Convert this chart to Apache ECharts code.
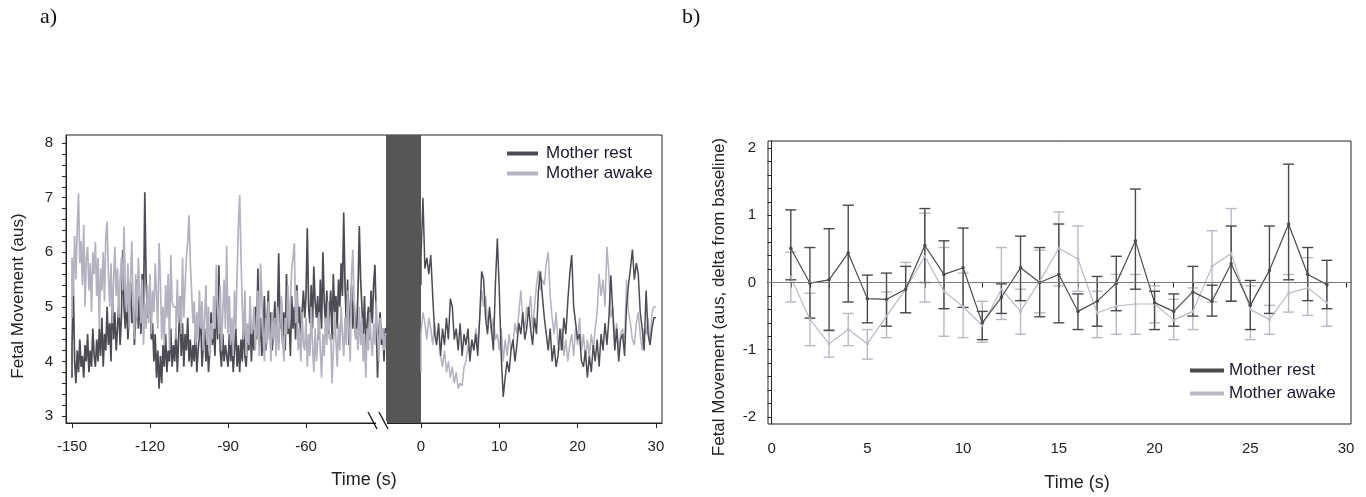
<!DOCTYPE html>
<html>
<head>
<meta charset="utf-8">
<script src="https://cdn.jsdelivr.net/npm/echarts@6/dist/echarts.min.js"></script>
<style>
  html, body { margin: 0; padding: 0; background: #fff; }
  #chart { width: 1366px; height: 497px; }
</style>
</head>
<body>
<div id="chart"></div>
<script>
// panel a) - before the break, 0.5 s samples from -150 s
const beforeStart = -150;
const beforeStep = 0.5;
const awakeBefore = [
  4.8, 5.9, 5.2, 6.3, 5.5, 6.4, 7.08, 5.8, 6.2, 5.4, 6.5, 5.0, 5.9, 6.1, 5.3, 5.8, 4.9, 6.0, 5.6, 6.19,
  5.2, 5.9, 4.6, 5.7, 5.3, 6.0, 5.1, 6.3, 6.56, 5.6, 5.0, 5.8, 4.7, 5.5, 6.1, 5.2, 5.7, 4.8, 5.5, 5.9,
  5.3, 6.47, 5.4, 4.9, 5.8, 4.6, 5.5, 6.2, 5.0, 4.4, 5.6, 4.8, 5.9, 5.3, 4.7, 5.5, 4.3, 5.1, 4.6, 5.4,
  4.7, 5.6, 4.5, 5.3, 4.9, 5.8, 5.2, 4.6, 6.17, 5.5, 4.4, 5.0, 4.3, 5.4, 4.8, 5.6, 4.2, 5.95, 5.1, 5.0,
  5.0, 4.4, 5.5, 4.7, 5.2, 4.5, 5.9, 4.8, 5.4, 5.9, 6.2, 6.68, 5.8, 5.3, 4.7, 5.1, 4.3, 4.9, 4.4, 5.3,
  4.6, 5.1, 4.2, 4.8, 5.4, 4.3, 5.0, 4.1, 4.7, 4.4, 5.2, 4.6, 5.77, 5.0, 4.5, 5.4, 4.2, 4.9, 5.5, 4.6,
  6.12, 4.5, 5.2, 4.3, 4.8, 4.1, 5.3, 4.6, 5.6, 6.5, 7.05, 5.9, 5.0, 4.4, 5.3, 4.1, 4.7, 4.3, 5.2, 4.5,
  4.6, 5.0, 4.2, 4.7, 5.3, 4.1, 5.8, 5.2, 4.5, 4.0, 4.8, 4.3, 5.1, 4.6, 4.0, 4.9, 4.4, 4.8, 4.1, 5.0,
  4.2, 4.7, 5.2, 4.4, 4.0, 4.8, 4.5, 5.4, 4.6, 5.1, 5.7, 5.9, 6.17, 4.7, 5.3, 4.2, 4.6, 4.0, 4.9, 4.3,
  4.2, 4.8, 3.9, 4.5, 4.1, 5.0, 4.3, 3.8, 4.6, 4.0, 4.4, 4.9, 4.2, 3.7, 4.5, 4.1, 4.8, 4.3, 5.1, 4.4,
  4.5, 3.6, 4.2, 4.9, 4.4, 3.9, 4.7, 4.2, 5.0, 4.5, 4.1, 4.8, 4.3, 5.3, 4.6, 4.0, 5.6, 6.05, 5.1, 4.4,
  4.6, 4.2, 5.0, 4.3, 4.8, 4.0, 4.5, 3.7, 4.6, 4.2, 4.9, 4.4, 4.1, 4.7, 4.3, 5.1, 4.5, 4.0, 4.8, 4.4, 4.6, 4.2, 4.5
];
const restBefore = [
  3.7, 4.3, 5.4, 4.0, 3.6, 4.2, 3.8, 4.4, 3.9, 4.1, 3.7, 4.3, 4.0, 4.5, 3.8, 4.2, 3.9, 4.6, 4.1, 3.9,
  4.4, 4.0, 4.6, 4.1, 4.8, 3.9, 4.5, 4.2, 5.0, 4.3, 4.7, 4.0, 5.3, 4.4, 4.9, 4.2, 4.6, 5.1, 4.3, 4.8,
  6.04, 5.0, 4.6, 5.2, 4.4, 4.9, 5.45, 4.7, 5.0, 4.3, 4.8, 5.5, 4.6, 5.2, 4.5, 5.6, 4.9, 7.1, 5.5, 4.8,
  4.9, 5.3, 4.4, 4.7, 4.0, 4.5, 3.7, 4.2, 3.5, 4.1, 3.6, 4.3, 3.9, 4.5, 3.8, 4.2, 4.0, 4.6, 3.9, 4.3,
  4.0, 4.6, 3.8, 4.4, 5.2, 4.1, 4.7, 3.9, 4.5, 4.2, 4.8, 4.0, 4.4, 3.9, 4.3, 4.0, 4.6, 3.8, 4.2, 4.5,
  4.8, 3.9, 4.3, 4.6, 4.0, 4.4, 3.8, 4.2, 4.9, 4.3, 4.6, 4.1, 5.3, 4.4, 5.76, 4.2, 3.9, 4.5, 4.0, 4.3,
  4.1, 3.9, 4.5, 4.0, 4.4, 3.8, 4.2, 4.6, 3.9, 4.3, 3.8, 4.4, 4.0, 4.7, 4.1, 3.9, 4.5, 4.2, 4.8, 4.0,
  4.6, 4.2, 5.0, 4.4, 5.7, 4.3, 4.8, 4.1, 4.5, 5.2, 4.2, 4.7, 5.3, 4.4, 4.9, 4.2, 4.6, 5.1, 4.3, 4.8,
  5.98, 4.6, 5.1, 4.3, 4.9, 4.2, 5.6, 4.5, 4.8, 4.1, 5.2, 4.6, 5.0, 4.4, 5.4, 4.7, 5.0, 4.3, 4.9, 5.3,
  4.8, 5.2, 6.44, 5.0, 4.7, 5.4, 4.6, 5.74, 5.1, 4.8, 5.2, 4.4, 5.5, 4.6, 6.0, 5.1, 4.7, 5.3, 4.5, 4.9,
  5.3, 4.4, 5.6, 4.9, 5.2, 4.6, 5.5, 5.0, 5.8, 5.2, 6.73, 5.4, 4.7, 5.5, 4.3, 5.0, 5.4, 4.6, 5.1, 4.5,
  4.6, 5.3, 6.48, 5.5, 5.0, 4.5, 5.2, 4.1, 4.7, 5.0, 4.4, 5.3, 4.7, 5.4, 5.77, 4.8, 3.7, 4.5, 4.9, 4.3, 4.6, 4.0, 4.6
];
// panel a) - after the break, 0.25 s samples from 0 s
const afterStart = 0;
const afterStep = 0.25;
const restAfter = [
  5.4, 5.9, 7.0, 5.7, 5.9, 5.6, 5.95, 5.2,
  4.5, 4.3, 4.7, 4.1, 4.6, 4.3, 4.8, 4.4,
  5.15, 5.0, 4.4, 4.6, 4.2, 4.7, 4.1, 4.5,
  4.3, 4.6, 4.0, 4.4, 4.2, 4.5, 4.1, 4.8,
  5.65, 5.5, 4.8, 4.5, 5.0, 4.6, 4.2, 5.4,
  6.25, 5.3, 4.1, 3.35, 3.7, 4.0, 3.8, 4.2,
  4.4, 4.0, 4.3, 4.7, 4.5, 4.9, 4.4, 4.6,
  5.0, 4.6, 4.3, 4.8, 4.5, 5.3, 5.65, 5.2,
  4.8, 4.5, 4.2, 4.6, 4.0, 4.3, 3.9, 4.1,
  4.6, 4.2, 4.8, 4.5, 5.1, 5.6, 5.95, 5.0,
  4.7, 4.4, 4.5, 4.0, 3.9, 4.2, 3.7, 4.1,
  3.8, 4.3, 4.0, 4.4, 3.9, 4.5, 4.2, 4.7,
  4.3, 4.8, 5.58, 4.9, 4.2, 4.6, 4.0, 4.4,
  4.5, 4.1, 5.0, 5.4, 5.7, 6.05, 5.5, 5.8,
  5.6, 4.9, 4.6, 4.2, 5.3, 4.5, 4.3, 4.6,
  4.8
];
const awakeAfter = [
  3.8, 4.5, 4.9, 4.7, 4.4, 4.8, 4.6, 4.3,
  4.7, 4.4, 4.6, 4.1, 3.9, 4.2, 3.8, 4.0,
  3.7, 3.9, 3.6, 3.8, 3.5, 3.6, 3.55, 3.9,
  4.0, 4.3, 4.1, 4.4, 4.2, 4.6, 4.3, 4.8,
  5.3, 5.0, 5.2, 4.7, 4.9, 4.5, 4.8, 4.4,
  4.5, 4.2, 4.6, 4.0, 4.4, 4.1, 4.5, 4.2,
  4.3, 4.7, 4.5, 4.9, 5.3, 4.8, 4.6, 5.0,
  4.9, 5.2, 4.6, 5.0, 5.4, 5.67, 5.3, 5.5,
  5.4, 5.8, 6.0, 5.2, 4.8, 4.5, 4.9, 4.3,
  4.2, 4.6, 4.1, 4.4, 4.0, 4.3, 4.5, 4.1,
  4.6, 4.3, 4.8, 4.2, 4.5, 4.0, 4.4, 4.1,
  4.5, 4.2, 4.6, 4.9, 5.6, 5.2, 5.5, 5.0,
  6.1, 5.6, 4.8, 5.0, 4.4, 4.7, 4.2, 4.5,
  4.6, 4.3, 5.5, 4.9, 4.7, 4.4, 4.3, 4.7,
  4.9, 4.5, 4.2, 4.6, 4.5, 4.8, 4.3, 4.9,
  5.0
];
const ticksA1 = [-150, -120, -90, -60];
const ticksA2 = [0, 10, 20, 30];
const yTicksA = [3, 4, 5, 6, 7, 8];

// panel b) - mean with error bars per second
const secs = [1, 2, 3, 4, 5, 6, 7, 8, 9, 10, 11, 12, 13, 14, 15, 16, 17, 18, 19, 20, 21, 22, 23, 24, 25, 26, 27, 28, 29];
const restMean = [0.51, -0.01, 0.04, 0.44, -0.24, -0.25, -0.10, 0.55, 0.12, 0.22, -0.60, -0.22, 0.22, 0.00, 0.12, -0.43, -0.28, -0.01, 0.62, -0.30, -0.43, -0.14, -0.28, 0.28, -0.34, 0.18, 0.87, 0.12, -0.03];
const restLow = [0.04, -0.53, -0.71, -0.29, -0.60, -0.65, -0.45, 0.00, -0.39, -0.37, -0.85, -0.46, -0.27, -0.51, -0.60, -0.70, -0.65, -0.42, -0.10, -0.70, -0.65, -0.50, -0.50, -0.28, -0.70, -0.46, 0.04, -0.27, -0.39];
const restHigh = [1.08, 0.52, 0.80, 1.15, 0.11, 0.14, 0.24, 1.10, 0.62, 0.81, -0.43, -0.02, 0.69, 0.52, 0.87, -0.17, 0.09, 0.39, 1.39, -0.13, -0.17, 0.24, -0.04, 0.84, 0.03, 0.84, 1.76, 0.52, 0.33];
const awakeMean = [0.08, -0.55, -0.91, -0.70, -0.91, -0.50, -0.10, 0.39, -0.13, -0.36, -0.64, -0.10, -0.43, 0.02, 0.51, 0.35, -0.45, -0.35, -0.32, -0.32, -0.56, -0.43, 0.24, 0.43, -0.40, -0.55, -0.16, -0.08, -0.30];
const awakeLow = [-0.29, -0.94, -1.11, -0.94, -1.14, -0.82, -0.45, -0.29, -0.80, -0.82, -0.89, -0.55, -0.77, -0.45, -0.05, -0.13, -0.82, -0.77, -0.77, -0.60, -0.85, -0.70, -0.29, -0.27, -0.85, -0.77, -0.44, -0.49, -0.65];
const awakeHigh = [0.45, -0.16, -0.72, -0.46, -0.70, -0.14, 0.30, 1.03, 0.52, 0.14, -0.28, 0.52, -0.10, 0.48, 1.05, 0.84, -0.13, 0.12, 0.12, -0.05, -0.25, -0.08, 0.77, 1.10, -0.05, -0.34, 0.12, 0.37, 0.00];
const ticksB = [0, 5, 10, 15, 20, 25, 30];
const yTicksB = [-2, -1, 0, 1, 2];

const DARK = '#4c4c54';
const LIGHT = '#b2b2c0';
const DARK_B = '#4a4a4a';
const LIGHT_B = '#b9b9c4';
const FONT = 'Liberation Sans, Arial, sans-serif';
const GAP_FROM = -4.34; // left edge of the shaded gap = axis min of the after-break grid

const pairs = (start, step, vals) => vals.map((v, i) => [start + i * step, v]);
// small tick marks
const fineTicks = (from, to, step) => {
  const out = [];
  for (let v = from; v <= to + 1e-9; v += step) out.push(Math.round(v * 100) / 100);
  return out;
};

function errorBars(color) {
  return function (params, api) {
    const x = api.value(0);
    const lo = api.coord([x, api.value(1)]);
    const hi = api.coord([x, api.value(2)]);
    const w = 5.5;
    const style = { stroke: color, lineWidth: 1.4 };
    return {
      type: 'group',
      children: [
        { type: 'line', shape: { x1: lo[0], y1: lo[1], x2: hi[0], y2: hi[1] }, style },
        { type: 'line', shape: { x1: lo[0] - w, y1: lo[1], x2: lo[0] + w, y2: lo[1] }, style },
        { type: 'line', shape: { x1: hi[0] - w, y1: hi[1], x2: hi[0] + w, y2: hi[1] }, style }
      ]
    };
  };
}

const chart = echarts.init(document.getElementById('chart'));

const axisText = { color: '#222', fontFamily: FONT, fontSize: 15 };
const lineAxis = { show: true, lineStyle: { color: '#222', width: 1 } };

const option = {
  animation: false,
  backgroundColor: '#fff',
  grid: [
    { left: 66, top: 135, width: 321, height: 288, show: true, borderColor: '#222', borderWidth: 1 },
    { left: 387, top: 135, width: 275, height: 288, show: true, borderColor: '#222', borderWidth: 1 },
    { left: 768, top: 141, width: 583, height: 283, show: true, borderColor: '#222', borderWidth: 1 }
  ],
  xAxis: [
    {
      gridIndex: 0, type: 'value', min: -152.31, max: -28.85,
      axisLine: lineAxis, splitLine: { show: false },
      axisTick: { customValues: ticksA1, length: 5, lineStyle: { color: '#222' } },
      axisLabel: { customValues: ticksA1, margin: 16, ...axisText }
    },
    {
      gridIndex: 1, type: 'value', min: GAP_FROM, max: 30.78,
      axisLine: lineAxis, splitLine: { show: false },
      axisTick: { customValues: ticksA2, length: 5, lineStyle: { color: '#222' } },
      axisLabel: { customValues: ticksA2, margin: 16, ...axisText }
    },
    {
      gridIndex: 2, type: 'value', min: -0.19, max: 30.26,
      axisLine: lineAxis, splitLine: { show: false },
      axisTick: { customValues: fineTicks(0, 30, 1), length: 5, lineStyle: { color: '#222' } },
      axisLabel: { customValues: ticksB, margin: 17, ...axisText }
    }
  ],
  yAxis: [
    {
      gridIndex: 0, type: 'value', min: 2.87, max: 8.15,
      axisLine: lineAxis, splitLine: { show: false },
      axisTick: { customValues: fineTicks(3, 8, 0.2), length: 4, lineStyle: { color: '#222' } },
      axisLabel: { customValues: yTicksA, margin: 13, ...axisText }
    },
    { gridIndex: 1, type: 'value', min: 2.87, max: 8.15, show: false },
    {
      gridIndex: 2, type: 'value', min: -2.105, max: 2.105,
      axisLine: lineAxis, splitLine: { show: false },
      axisTick: { customValues: fineTicks(-2, 2, 0.2), length: 4, lineStyle: { color: '#222' } },
      axisLabel: { customValues: yTicksB, margin: 12, ...axisText }
    }
  ],
  legend: [
    {
      left: 502, top: 140, orient: 'vertical', itemWidth: 31, itemHeight: 4, itemGap: 3,
      icon: 'rect', selectedMode: false,
      textStyle: { fontFamily: FONT, fontSize: 17, color: '#1a1a2e', padding: [0, 0, 0, 3] },
      data: [
        { name: 'Mother rest', itemStyle: { color: DARK } },
        { name: 'Mother awake', itemStyle: { color: LIGHT } }
      ]
    },
    {
      left: 1185, top: 357, orient: 'vertical', itemWidth: 34, itemHeight: 4, itemGap: 6,
      icon: 'rect', selectedMode: false,
      textStyle: { fontFamily: FONT, fontSize: 17, color: '#1a1a2e' },
      data: [
        { name: 'Mother rest', itemStyle: { color: DARK_B } },
        { name: 'Mother awake', itemStyle: { color: LIGHT_B } }
      ]
    }
  ],
  graphic: [
    { type: 'text', x: 40, y: 6, style: { text: 'a)', font: '22px "Liberation Serif", serif', fill: '#111' } },
    { type: 'text', x: 682, y: 6, style: { text: 'b)', font: '22px "Liberation Serif", serif', fill: '#111' } },
    { type: 'text', x: 364, y: 480, style: { text: 'Time (s)', font: '18px ' + FONT, fill: '#222', align: 'center', verticalAlign: 'middle' } },
    { type: 'text', x: 1077, y: 483, style: { text: 'Time (s)', font: '18px ' + FONT, fill: '#222', align: 'center', verticalAlign: 'middle' } },
    { type: 'text', x: 18, y: 296, rotation: Math.PI / 2, style: { text: 'Fetal Movement (aus)', font: '17px ' + FONT, fill: '#222', align: 'center', verticalAlign: 'middle' } },
    { type: 'text', x: 719, y: 297, rotation: Math.PI / 2, style: { text: 'Fetal Movement (aus, delta from baseline)', font: '17px ' + FONT, fill: '#222', align: 'center', verticalAlign: 'middle' } },
    // axis break marks
    { type: 'rect', z: 99, shape: { x: 376, y: 421, width: 11, height: 4 }, style: { fill: '#fff' } },
    { type: 'line', z: 100, shape: { x1: 368, y1: 412, x2: 377, y2: 429 }, style: { stroke: '#111', lineWidth: 1.3 } },
    { type: 'line', z: 100, shape: { x1: 379, y1: 412, x2: 388, y2: 429 }, style: { stroke: '#111', lineWidth: 1.3 } }
  ],
  series: [
    {
      name: 'Mother rest', type: 'line', xAxisIndex: 0, yAxisIndex: 0, step: 'start',
      symbol: 'none', data: pairs(beforeStart, beforeStep, restBefore),
      color: DARK, lineStyle: { color: DARK, width: 1.7 }
    },
    {
      name: 'Mother awake', type: 'line', xAxisIndex: 0, yAxisIndex: 0, step: 'start',
      symbol: 'none', data: pairs(beforeStart, beforeStep, awakeBefore),
      color: LIGHT, lineStyle: { color: LIGHT, width: 1.7 }
    },
    {
      name: 'Mother awake', type: 'line', xAxisIndex: 1, yAxisIndex: 1, step: 'start',
      symbol: 'none', data: pairs(afterStart, afterStep, awakeAfter),
      color: LIGHT, lineStyle: { color: LIGHT, width: 1.5 },
      markArea: {
        silent: true,
        itemStyle: { color: '#565656', opacity: 1 },
        data: [[{ xAxis: GAP_FROM }, { xAxis: 0 }]]
      }
    },
    {
      name: 'Mother rest', type: 'line', xAxisIndex: 1, yAxisIndex: 1, step: 'start',
      symbol: 'none', data: pairs(afterStart, afterStep, restAfter),
      color: DARK, lineStyle: { color: DARK, width: 1.5 }
    },
    {
      name: 'awake bars', type: 'custom', xAxisIndex: 2, yAxisIndex: 2,
      renderItem: errorBars(LIGHT_B), encode: { x: 0, y: [1, 2] },
      data: secs.map((s, i) => [s, awakeLow[i], awakeHigh[i]])
    },
    {
      name: 'Mother awake', type: 'line', xAxisIndex: 2, yAxisIndex: 2,
      symbol: 'circle', symbolSize: 3, data: secs.map((s, i) => [s, awakeMean[i]]),
      color: LIGHT_B, itemStyle: { color: LIGHT_B }, lineStyle: { color: LIGHT_B, width: 1.2 },
      markLine: {
        silent: true, symbol: 'none', label: { show: false },
        lineStyle: { color: '#7a7a7a', width: 1, type: 'solid' },
        data: [{ yAxis: 0 }]
      }
    },
    {
      name: 'rest bars', type: 'custom', xAxisIndex: 2, yAxisIndex: 2,
      renderItem: errorBars(DARK_B), encode: { x: 0, y: [1, 2] },
      data: secs.map((s, i) => [s, restLow[i], restHigh[i]])
    },
    {
      name: 'Mother rest', type: 'line', xAxisIndex: 2, yAxisIndex: 2,
      symbol: 'circle', symbolSize: 3.5, data: secs.map((s, i) => [s, restMean[i]]),
      color: DARK_B, itemStyle: { color: DARK_B }, lineStyle: { color: DARK_B, width: 1.2 }
    }
  ]
};

chart.setOption(option);
</script>
</body>
</html>
